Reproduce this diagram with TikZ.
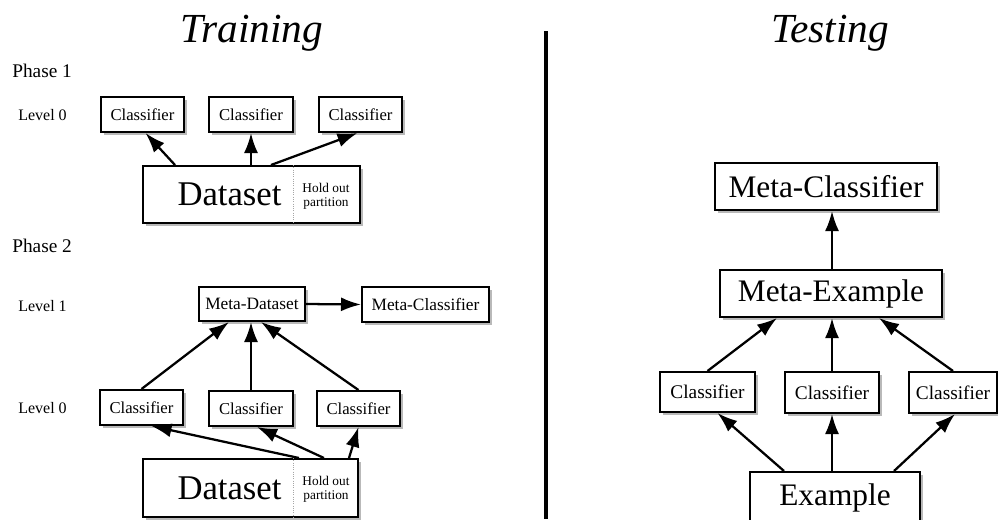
\documentclass[tikz,border=0pt]{standalone}
\usepackage{fontspec}
\setmainfont{Liberation Serif}
\usetikzlibrary{arrows.meta,shadows,calc}
\begin{document}
\begin{tikzpicture}[x=0.75pt,y=-0.75pt,
  box/.style={draw, line width=1.5pt, fill=white, inner sep=0pt,
    drop shadow={shadow xshift=2.6pt, shadow yshift=-2.6pt, fill=black!50, opacity=0.55}},
  conn/.style={line width=1.7pt, -{Latex[length=15pt,width=10.5pt]}},
  lbl/.style={anchor=base west, inner sep=0pt, font=\fontsize{12}{14}\selectfont},
  phase/.style={anchor=base west, inner sep=0pt, font=\fontsize{14.5}{17}\selectfont},
  title/.style={anchor=base, inner sep=0pt, font=\fontsize{31}{36}\selectfont\itshape},
  small/.style={font=\fontsize{12.5}{15}\selectfont},
  mid/.style={font=\fontsize{13}{15}\selectfont},
  big/.style={font=\fontsize{23.5}{28}\selectfont},
  hold/.style={inner sep=0pt, align=center, font=\fontsize{10}{10.5}\selectfont},
  cut/.style={densely dotted, gray!70, line width=0.7pt}]
\useasboundingbox (0,0) rectangle (998,519);
\clip (0,0) rectangle (998,519);

% titles and the separator
\node[title] (ttrain) at (252,42) {Training};
\node[title] (ttest) at (830,42) {Testing};
\draw[line width=3pt] (546,31) -- (546,519);

% ---------------- Training, phase 1 ----------------
\node[phase] (ph1) at (12,77) {Phase 1};
\node[lbl] (lv10) at (18,120) {Level 0};
\node[box, small, minimum width=62.25pt, minimum height=26.25pt] (a1) at (142.5,114.5) {Classifier};
\node[box, small, minimum width=63pt,    minimum height=26.25pt] (a2) at (251,114.5) {Classifier};
\node[box, small, minimum width=62.25pt, minimum height=26.25pt] (a3) at (360.5,114.5) {Classifier};

\node[box, minimum width=162.75pt, minimum height=42.75pt] (ds1) at (251.5,194.5) {};
\node[font=\fontsize{26}{30}\selectfont, inner sep=0pt] (ds1t) at (229.5,194.5) {Dataset};
\node[hold] (ds1h) at (326,196) {Hold out\\partition};
\coordinate (cut1) at (293,194.5);
\draw[cut] (cut1 |- ds1.north) -- (cut1 |- ds1.south);

\draw[conn] ($(ds1.north west)+(33,0)$) -- ($(a1.south)+(3,0)$);
\draw[conn] (a2.south |- ds1.north) -- (a2.south);
\draw[conn] ($(ds1.north west)+(129,0)$) -- ($(a3.south)+(-3,0)$);

% ---------------- Training, phase 2 ----------------
\node[phase] (ph2) at (12,252) {Phase 2};
\node[lbl] (lv1) at (18,311) {Level 1};
\node[lbl] (lv00) at (18,413) {Level 0};

\node[box, mid, minimum width=79.5pt, minimum height=25.5pt] (md) at (252,304) {Meta-Dataset};
\node[box, mid, minimum width=95.25pt, minimum height=26.25pt] (mc) at (425.5,304.5) {Meta-Classifier};

\node[box, small, minimum width=62.25pt, minimum height=26.25pt] (b1) at (141.5,407.5) {Classifier};
\node[box, small, minimum width=63pt,    minimum height=26.25pt] (b2) at (251,408.5) {Classifier};
\node[box, small, minimum width=62.25pt, minimum height=26.25pt] (b3) at (358.5,408.5) {Classifier};

\node[box, minimum width=161.25pt, minimum height=43.5pt] (ds2) at (250.5,488) {};
\node[font=\fontsize{26}{30}\selectfont, inner sep=0pt] (ds2t) at (229.5,488) {Dataset};
\node[hold] (ds2h) at (326,489.5) {Hold out\\partition};
\coordinate (cut2) at (293,488);
\draw[cut] (cut2 |- ds2.north) -- (cut2 |- ds2.south);

\draw[conn] (md.east) -- (mc.west);
\draw[conn] (b1.north) -- ($(md.south west)+(31,0)$);
\draw[conn] (b2.north) -- (b2.north |- md.south);
\draw[conn] (b3.north) -- ($(md.south west)+(63,0)$);

\draw[conn] ($(ds2.north west)+(157,0)$) -- ($(b1.south)+(10,0)$);
\draw[conn] ($(ds2.north west)+(182,0)$) -- ($(b2.south)+(6,0)$);
\draw[conn] ($(ds2.north west)+(207,0)$) -- (b3.south);

% ---------------- Testing ----------------
\node[box, big, minimum width=166.5pt, minimum height=35.25pt] (tmc) at (826,186.5) {Meta-Classifier};
\node[box, big, minimum width=166.5pt, minimum height=35.25pt] (me) at (831,293.5) {Meta-Example};

\node[box, font=\fontsize{14.5}{17}\selectfont, minimum width=71.25pt, minimum height=30pt] (c1) at (707.5,392) {Classifier};
\node[box, font=\fontsize{14.5}{17}\selectfont, minimum width=70.5pt, minimum height=30.75pt] (c2) at (832,392.5) {Classifier};
\node[box, font=\fontsize{14.5}{17}\selectfont, minimum width=66pt, minimum height=30.75pt] (c3) at (953,392.5) {Classifier};

\node[box, big, minimum width=127.5pt, minimum height=39pt] (ex) at (835,498) {Example};

\draw[conn] (me.north -| 832,0) -- (tmc.south -| 832,0);
\draw[conn] (c1.north) -- ($(me.south west)+(58,0)$);
\draw[conn] (c2.north) -- (c2.north |- me.south);
\draw[conn] (c3.north) -- ($(me.south west)+(160,0)$);

\draw[conn] ($(ex.north west)+(35,0)$) -- ($(c1.south)+(10,0)$);
\draw[conn] (c2.south |- ex.north) -- (c2.south);
\draw[conn] ($(ex.north west)+(145,0)$) -- ($(c3.south)+(2,0)$);
\end{tikzpicture}
\end{document}
